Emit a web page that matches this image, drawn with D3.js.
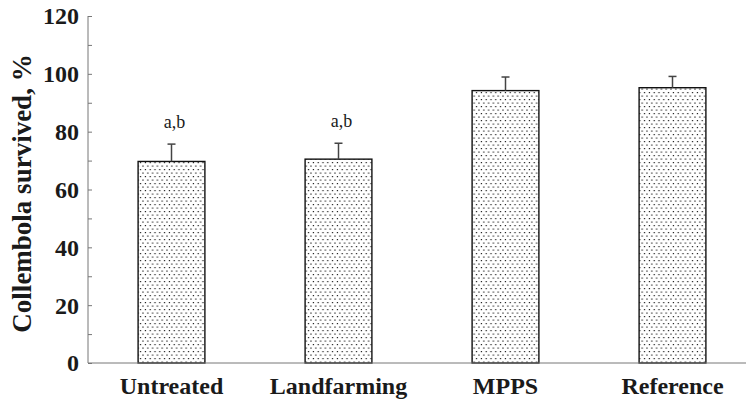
<!DOCTYPE html>
<html>
<head>
<meta charset="utf-8">
<script src="https://cdn.jsdelivr.net/npm/d3@7"></script>
<style>
  html, body { margin: 0; padding: 0; background: #fff; }
  svg { display: block; }
  text { font-family: "Liberation Serif", "Times New Roman", serif; fill: #1a1a1a; }
</style>
</head>
<body>
<svg id="chart" width="746" height="399"></svg>
<script>
// Collembola survival by soil treatment (mean and standard deviation, %)
const categories = ["Untreated", "Landfarming", "MPPS", "Reference"];
const survival = [69.7, 70.5, 94.2, 95.2];
const deviation = [6.0, 5.5, 4.7, 3.9];
const letters = ["a,b", "a,b", "", ""];
const yTicks = [0, 20, 40, 60, 80, 100, 120];
const yMinorTicks = [10, 30, 50, 70, 90, 110];

const svg = d3.select("#chart");
const plotLeft = 88, plotRight = 756, plotTop = 16, plotBottom = 363;

const x = d3.scaleBand()
  .domain(categories)
  .range([plotLeft, plotRight])
  .paddingInner(0.6)
  .paddingOuter(0.3);

const y = d3.scaleLinear().domain([0, 120]).range([plotBottom, plotTop]);

// stippled fill for the bars
const defs = svg.append("defs");
const pat = defs.append("pattern")
  .attr("id", "stipple")
  .attr("patternUnits", "userSpaceOnUse")
  .attr("width", 4.8).attr("height", 7);
pat.append("rect").attr("width", 4.8).attr("height", 7).attr("fill", "#fff");
pat.append("rect").attr("x", 0.8).attr("y", 1).attr("width", 1.2).attr("height", 1.2).attr("fill", "#1a1a1a");
pat.append("rect").attr("x", 3.2).attr("y", 4.5).attr("width", 1.2).attr("height", 1.2).attr("fill", "#1a1a1a");

// bars
svg.append("g").selectAll("rect")
  .data(categories)
  .join("rect")
  .attr("x", d => x(d))
  .attr("y", (d, i) => y(survival[i]))
  .attr("width", x.bandwidth())
  .attr("height", (d, i) => y(0) - y(survival[i]))
  .attr("fill", "url(#stipple)")
  .attr("stroke", "#111")
  .attr("stroke-width", 1.4);

// upper error bars
const err = svg.append("g").attr("stroke", "#444").attr("stroke-width", 1.5);
categories.forEach((c, i) => {
  const cx = x(c) + x.bandwidth() / 2;
  err.append("line")
    .attr("x1", cx).attr("x2", cx)
    .attr("y1", y(survival[i])).attr("y2", y(survival[i] + deviation[i]));
  err.append("line")
    .attr("x1", cx - 4).attr("x2", cx + 4)
    .attr("y1", y(survival[i] + deviation[i])).attr("y2", y(survival[i] + deviation[i]));
});

// significance letters
svg.append("g").selectAll("text")
  .data(categories)
  .join("text")
  .attr("x", d => x(d) + x.bandwidth() / 2 + 3)
  .attr("y", (d, i) => y(survival[i] + deviation[i]) - 16)
  .attr("text-anchor", "middle")
  .attr("font-size", 18)
  .text((d, i) => letters[i]);

// y axis
const yAxis = svg.append("g")
  .attr("transform", `translate(${plotLeft},0)`)
  .call(d3.axisRight(y).tickValues(yTicks).tickSize(4).tickFormat(""));
yAxis.select(".domain").remove();
yAxis.selectAll(".tick line").attr("stroke", "#777");

svg.append("g")
  .attr("transform", `translate(${plotLeft},0)`)
  .call(d3.axisRight(y).tickValues(yMinorTicks).tickSize(4).tickFormat(""))
  .call(g => g.select(".domain").remove())
  .selectAll(".tick line").attr("stroke", "#777");

svg.append("line")
  .attr("x1", plotLeft).attr("x2", plotLeft)
  .attr("y1", y(120)).attr("y2", y(0))
  .attr("stroke", "#777").attr("stroke-width", 1);

svg.append("g").selectAll("text")
  .data(yTicks)
  .join("text")
  .attr("x", plotLeft - 9)
  .attr("y", d => y(d))
  .attr("dy", "0.35em")
  .attr("text-anchor", "end")
  .attr("font-size", 24)
  .attr("font-weight", "bold")
  .text(d => d);

// x axis baseline
svg.append("line")
  .attr("x1", plotLeft).attr("x2", 746)
  .attr("y1", y(0)).attr("y2", y(0))
  .attr("stroke", "#777").attr("stroke-width", 1);

svg.append("g").selectAll("text")
  .data(categories)
  .join("text")
  .attr("x", d => x(d) + x.bandwidth() / 2)
  .attr("y", 393.5)
  .attr("text-anchor", "middle")
  .attr("font-size", 24)
  .attr("font-weight", "bold")
  .text(d => d);

// y axis title
svg.append("text")
  .attr("transform", `translate(31,${(y(0) + y(120)) / 2 + 4}) rotate(-90)`)
  .attr("text-anchor", "middle")
  .attr("font-size", 27)
  .attr("font-weight", "bold")
  .text("Collembola survived, %");
</script>
</body>
</html>
